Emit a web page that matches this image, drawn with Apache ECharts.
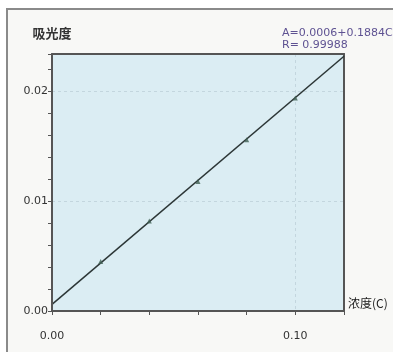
<!DOCTYPE html>
<html>
<head>
<meta charset="utf-8">
<script src="https://cdn.jsdelivr.net/npm/echarts@6/dist/echarts.min.js"></script>
<style>
  html, body { margin: 0; padding: 0; background: #ffffff; }
  #chart { width: 393px; height: 352px; }
</style>
</head>
<body>
<div id="chart"></div>
<script>
// calibration points (concentration, absorbance)
const concValues = [0.02, 0.04, 0.06, 0.08, 0.10]
const absValues = [0.0045, 0.0082, 0.0118, 0.0156, 0.0194]

// fitted line end points
const fitConc = [0, 0.12]
const fitAbs = [0.0006, 0.0232]

const xLabelValues = [0, 0.1]
const xTickLabels = ['0.00', '0.10']
const yLabelValues = [0, 0.01, 0.02]
const yTickLabels = ['0.00', '0.01', '0.02']

const equationText = 'A=0.0006+0.1884C'
const rText = 'R= 0.99988'

const xMax = 0.12
const yMax = 0.0234

const labelColor = '#333'
const gridColor = '#c3d6de'
const axisColor = '#555'

function pickLabel(values, labels, v) {
  const i = values.findIndex((x) => Math.abs(x - v) < 1e-9)
  return i < 0 ? '' : labels[i]
}

const chart = echarts.init(document.getElementById('chart'))

// border axes on top/right also carry the dashed grid lines
const frameAxis = {
  type: 'value',
  axisLine: { show: true, onZero: false, lineStyle: { color: axisColor, width: 2 } },
  axisTick: { show: false },
  axisLabel: { show: false },
  splitLine: { show: true, lineStyle: { color: gridColor, type: [3, 3] } },
}

chart.setOption({
  backgroundColor: '#ffffff',
  animation: false,
  graphic: [{
    type: 'rect',
    shape: { x: 7, y: 9, width: 420, height: 360 },
    style: { fill: '#f8f8f6', stroke: '#8a8a8a', lineWidth: 2 },
    z: -10,
  }],
  title: {
    text: equationText + '\n' + rText,
    left: 277,
    top: 22,
    textStyle: {
      fontFamily: 'DejaVu Sans',
      fontSize: 11,
      fontWeight: 'normal',
      color: '#5e5292',
      lineHeight: 12,
    },
  },
  grid: {
    left: 52, top: 54, right: 49, bottom: 41,
    show: true,
    backgroundColor: '#dbedf3',
    borderWidth: 0,
  },
  xAxis: [{
    type: 'value',
    min: 0,
    max: xMax,
    interval: 0.02,
    name: '浓度(C)',
    nameLocation: 'end',
    nameGap: 4,
    nameTextStyle: {
      fontFamily: 'Noto Sans CJK SC',
      fontSize: 12,
      color: '#222',
      verticalAlign: 'bottom',
      lineHeight: 14,
      padding: [0, 0, 1, 0],
    },
    axisLine: { show: true, onZero: false, lineStyle: { color: axisColor, width: 2 } },
    axisTick: { show: true, length: 4, lineStyle: { color: axisColor } },
    axisLabel: {
      margin: 20,
      fontFamily: 'DejaVu Sans',
      fontSize: 11,
      color: labelColor,
      formatter: (v) => pickLabel(xLabelValues, xTickLabels, v),
    },
    splitLine: { show: false },
    z: 5,
  }, {
    ...frameAxis,
    min: 0,
    max: xMax,
    interval: 0.1,
    position: 'top',
  }],
  yAxis: [{
    type: 'value',
    min: 0,
    max: yMax,
    interval: 0.002,
    name: '吸光度',
    nameLocation: 'end',
    nameGap: 14,
    nameTextStyle: {
      fontFamily: 'Noto Sans CJK SC',
      fontSize: 13,
      fontWeight: 'bold',
      color: '#333',
      align: 'center',
    },
    axisLine: { show: true, onZero: false, lineStyle: { color: axisColor, width: 2 } },
    axisTick: { show: true, length: 4, lineStyle: { color: axisColor } },
    axisLabel: {
      margin: 4,
      fontFamily: 'DejaVu Sans',
      fontSize: 11,
      color: labelColor,
      formatter: (v) => pickLabel(yLabelValues, yTickLabels, v),
    },
    splitLine: { show: false },
    z: 5,
  }, {
    ...frameAxis,
    min: 0,
    max: yMax,
    interval: 0.01,
    position: 'right',
  }],
  series: [{
    type: 'line',
    data: fitConc.map((c, i) => [c, fitAbs[i]]),
    symbol: 'none',
    lineStyle: { color: '#2c3636', width: 1.5 },
    z: 3,
  }, {
    type: 'scatter',
    data: concValues.map((c, i) => [c, absValues[i]]),
    symbol: 'triangle',
    symbolSize: 5,
    itemStyle: { color: '#3f5f52' },
    z: 4,
  }],
})
</script>
</body>
</html>
